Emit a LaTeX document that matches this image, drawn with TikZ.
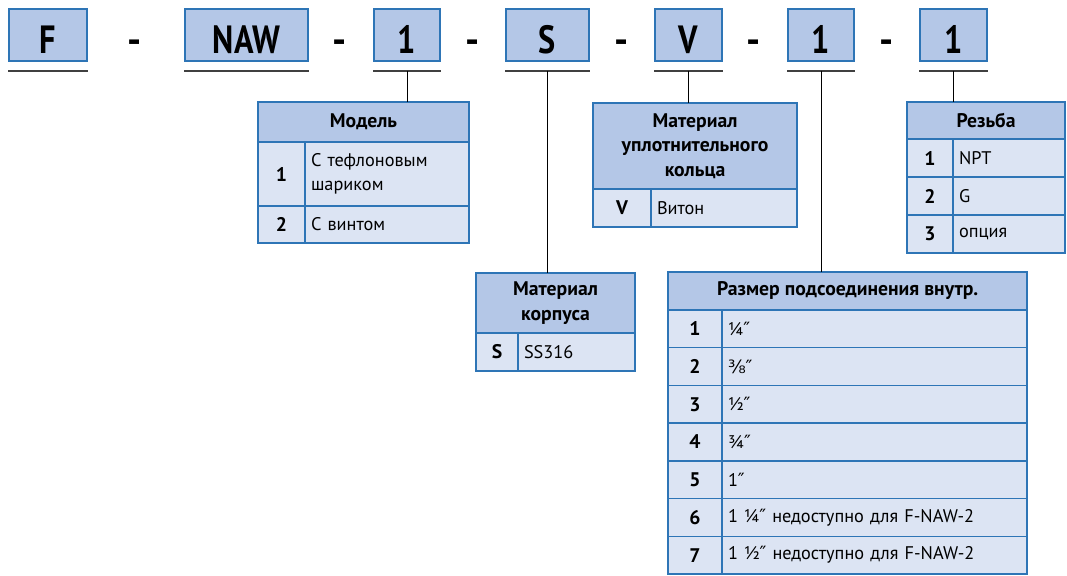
\documentclass[tikz,border=0pt]{standalone}
\usepackage{fontspec}
\setmainfont{PT Sans}
\newfontfamily\kodfont{PT Sans}[FakeStretch=0.82]
\newfontfamily\symfont{DejaVu Sans}
\newcommand\inch{{\symfont ″}}
\definecolor{hdrblue}{HTML}{B4C7E7}
\definecolor{rowblue}{HTML}{DCE4F3}
\definecolor{edgeblue}{HTML}{2E75B6}
\definecolor{linegray}{HTML}{404040}

\begin{document}
\begin{tikzpicture}[x=0.025cm, y=-0.025cm,
    kod/.style = {draw=edgeblue, fill=hdrblue, line width=1pt, minimum height=1.3cm, text height=25.8pt, text depth=0pt, font=\kodfont\bfseries\fontsize{28}{32}\selectfont},
    minus/.style = {anchor=base, font=\bfseries\fontsize{28}{32}\selectfont},
    hdr/.style = {draw=edgeblue, fill=hdrblue, line width=1pt, outer sep=0pt, anchor=north west, align=center, inner sep=0pt, font=\bfseries\fontsize{14}{17.5}\selectfont},
    num/.style = {draw=edgeblue, fill=rowblue, line width=1pt, outer sep=0pt, anchor=north west, inner sep=0pt, font=\bfseries\fontsize{14}{17}\selectfont},
    txt/.style = {draw=edgeblue, fill=rowblue, line width=1pt, outer sep=0pt, anchor=north west, align=left, inner xsep=0.15cm, inner ysep=0pt, font=\fontsize{13}{17}\selectfont},
    uline/.style = {draw=linegray, line width=1.5pt},
    link/.style = {draw=black, line width=0.7pt}]
    \useasboundingbox (0,0) rectangle (1067,575);

    % code
    \node[kod, minimum width=1.95cm] (f) at (48,35) {F};
    \node[minus] (m1) at (135,53) {-};
    \node[kod, minimum width=3.075cm] (naw) at (246.5,35) {NAW};
    \node[minus] (m2) at (340,53) {-};
    \node[kod, minimum width=1.65cm] (k1) at (407,35) {1};
    \node[minus] (m3) at (473,53) {-};
    \node[kod, minimum width=2.075cm] (ks) at (547.5,35) {S};
    \node[minus] (m4) at (622,53) {-};
    \node[kod, minimum width=1.675cm] (kv) at (688.5,35) {V};
    \node[minus] (m5) at (754,53) {-};
    \node[kod, minimum width=1.65cm] (k2) at (821,35) {1};
    \node[minus] (m6) at (887,53) {-};
    \node[kod, minimum width=1.675cm] (k3) at (953.5,35) {1};

    \foreach \k in {f, naw, k1, ks, kv, k2, k3}
        \draw[uline] ([yshift=-0.225cm]\k.south west) -- ([yshift=-0.225cm]\k.south east);

    % Модель
    \node[hdr, minimum width=5.275cm, minimum height=1cm] (mod) at (258,102) {Модель};
    \node[num, minimum width=1.175cm, minimum height=1.6cm] (mod1) at (mod.south west) {1};
    \node[txt, text width=3.8cm, minimum height=1.6cm] (mod1t) at (mod1.north east) {С тефлоновым\\шариком};
    \node[num, minimum width=1.175cm, minimum height=0.925cm] (mod2) at (mod1.south west) {2};
    \node[txt, text width=3.8cm, minimum height=0.925cm] (mod2t) at (mod2.north east) {С винтом};

    % Материал уплотнительного кольца
    \node[hdr, minimum width=5.1cm, minimum height=2.15cm] (upl) at (593,103) {Материал\\уплотнительного\\кольца};
    \node[num, minimum width=1.45cm, minimum height=0.95cm] (upl1) at (upl.south west) {V};
    \node[txt, text width=3.35cm, minimum height=0.95cm] (upl1t) at (upl1.north east) {Витон};

    % Резьба
    \node[hdr, minimum width=3.95cm, minimum height=0.925cm] (rez) at (907,102) {Резьба};
    \node[num, minimum width=1.15cm, minimum height=0.95cm] (rez1) at (rez.south west) {1};
    \node[txt, text width=2.5cm, minimum height=0.95cm] (rez1t) at (rez1.north east) {NPT};
    \node[num, minimum width=1.15cm, minimum height=0.95cm] (rez2) at (rez1.south west) {2};
    \node[txt, text width=2.5cm, minimum height=0.95cm] (rez2t) at (rez2.north east) {G};
    \node[num, minimum width=1.15cm, minimum height=0.95cm] (rez3) at (rez2.south west) {3};
    \node[txt, text width=2.5cm, minimum height=0.95cm] (rez3t) at (rez3.north east) {опция};

    % Материал корпуса
    \node[hdr, minimum width=3.975cm, minimum height=1.5cm] (kor) at (476,273) {Материал\\корпуса};
    \node[num, minimum width=1.05cm, minimum height=0.95cm] (kor1) at (kor.south west) {S};
    \node[txt, text width=2.625cm, minimum height=0.95cm] (kor1t) at (kor1.north east) {SS316};

    % Размер подсоединения
    \node[hdr, minimum width=8.975cm, minimum height=0.95cm] (raz) at (668,272) {Размер подсоединения внутр.};
    \node[num, minimum width=1.35cm, minimum height=0.9425cm] (raz1) at (raz.south west) {1};
    \node[txt, text width=7.325cm, minimum height=0.9425cm] (raz1t) at (raz1.north east) {¼\inch};
    \node[num, minimum width=1.35cm, minimum height=0.9425cm] (raz2) at (raz1.south west) {2};
    \node[txt, text width=7.325cm, minimum height=0.9425cm] (raz2t) at (raz2.north east) {{\symfont ⅜}\inch};
    \node[num, minimum width=1.35cm, minimum height=0.9425cm] (raz3) at (raz2.south west) {3};
    \node[txt, text width=7.325cm, minimum height=0.9425cm] (raz3t) at (raz3.north east) {½\inch};
    \node[num, minimum width=1.35cm, minimum height=0.9425cm] (raz4) at (raz3.south west) {4};
    \node[txt, text width=7.325cm, minimum height=0.9425cm] (raz4t) at (raz4.north east) {¾\inch};
    \node[num, minimum width=1.35cm, minimum height=0.9425cm] (raz5) at (raz4.south west) {5};
    \node[txt, text width=7.325cm, minimum height=0.9425cm] (raz5t) at (raz5.north east) {1\inch};
    \node[num, minimum width=1.35cm, minimum height=0.9425cm] (raz6) at (raz5.south west) {6};
    \node[txt, text width=7.325cm, minimum height=0.9425cm] (raz6t) at (raz6.north east) {1 ¼\inch{} недоступно для F-NAW-2};
    \node[num, minimum width=1.35cm, minimum height=0.9425cm] (raz7) at (raz6.south west) {7};
    \node[txt, text width=7.325cm, minimum height=0.9425cm] (raz7t) at (raz7.north east) {1 ½\inch{} недоступно для F-NAW-2};

    % links
    \coordinate (c1) at ([yshift=-0.225cm]k1.south);
    \coordinate (c2) at ([yshift=-0.225cm]ks.south);
    \coordinate (c3) at ([yshift=-0.225cm]kv.south);
    \coordinate (c4) at ([yshift=-0.225cm]k2.south);
    \coordinate (c5) at ([yshift=-0.225cm]k3.south);
    \draw[link] (c1) -- (c1 |- mod.north);
    \draw[link] (c2) -- (c2 |- kor.north);
    \draw[link] (c3) -- (c3 |- upl.north);
    \draw[link] (c4) -- (c4 |- raz.north);
    \draw[link] (c5) -- (c5 |- rez.north);
\end{tikzpicture}
\end{document}
